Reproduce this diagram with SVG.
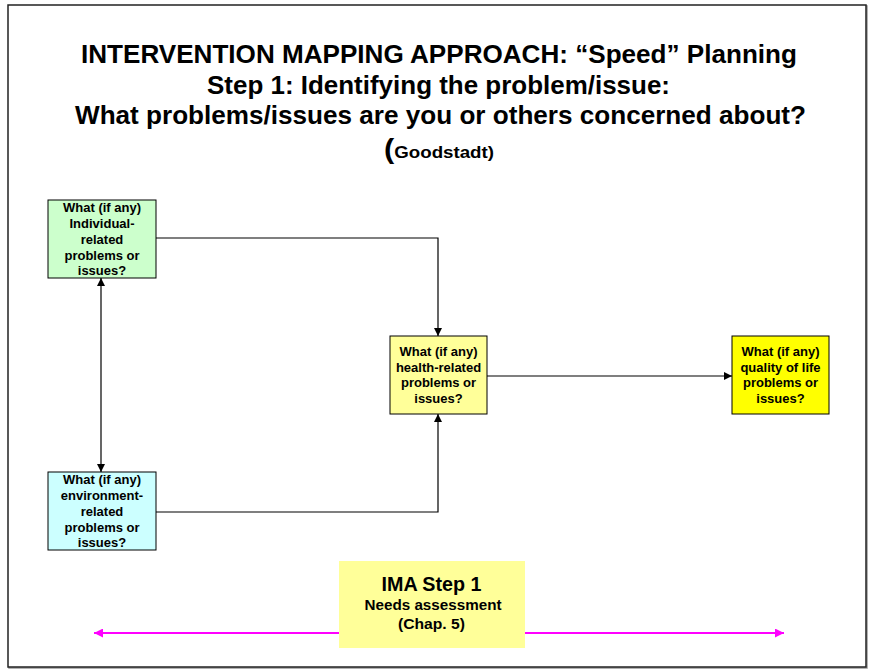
<svg xmlns="http://www.w3.org/2000/svg" width="870" height="669" viewBox="0 0 870 669">
<style>
.node{stroke:#000;stroke-width:1}
.nt{font-family:"Liberation Sans",Arial,sans-serif;font-weight:bold;font-size:13px;fill:#000;text-anchor:middle}
.tt{font-family:"Liberation Sans Narrow","Liberation Sans",Arial,sans-serif;font-weight:bold;fill:#000;text-anchor:middle}
.conn{fill:none;stroke:#000;stroke-width:1.2}
.mag{fill:none;stroke:#ff00ff;stroke-width:2}
</style>
<defs>
<marker id="ah" viewBox="0 0 10 10" refX="10" refY="5" markerWidth="9" markerHeight="8" markerUnits="userSpaceOnUse" orient="auto-start-reverse">
<path d="M0,0 L10,5 L0,10 z" fill="#000"/>
</marker>
<marker id="mh" viewBox="0 0 10 10" refX="10" refY="5" markerWidth="11" markerHeight="9" markerUnits="userSpaceOnUse" orient="auto-start-reverse">
<path d="M0,0 L10,5 L0,10 z" fill="#ff00ff"/>
</marker>
</defs>
<rect x="0" y="0" width="870" height="669" fill="#fff"/>
<rect x="9" y="6" width="858" height="662" fill="none" stroke="#999" stroke-width="1.5"/>
<rect x="8" y="5" width="858" height="662" fill="#fff" stroke="#222" stroke-width="1.5"/>
<g id="title">
<text class="tt" x="439" y="63" font-size="26" textLength="716" lengthAdjust="spacingAndGlyphs">INTERVENTION MAPPING APPROACH: “Speed” Planning</text>
<text class="tt" x="438.5" y="94" font-size="26" textLength="463" lengthAdjust="spacingAndGlyphs">Step 1: Identifying the problem/issue:</text>
<text class="tt" x="440.5" y="124" font-size="26" textLength="731" lengthAdjust="spacingAndGlyphs">What problems/issues are you or others concerned about?</text>
<text class="tt" x="439" y="158" textLength="110" lengthAdjust="spacingAndGlyphs"><tspan font-size="28">(</tspan><tspan font-size="17">Goodstadt)</tspan></text>
</g>
<g id="connectors">
<path class="conn" d="M156,238 H438 V336" marker-end="url(#ah)"/>
<path class="conn" d="M156,512 H438 V414" marker-end="url(#ah)"/>
<path class="conn" d="M101,278 V472" marker-start="url(#ah)" marker-end="url(#ah)"/>
<path class="conn" d="M487,376 H732" marker-end="url(#ah)"/>
</g>
<g id="individual">
<rect class="node" x="48" y="200" width="108" height="78" fill="#ccffcc"/>
<text class="nt" x="102" y="212">What (if any)</text>
<text class="nt" x="102" y="228">Individual-</text>
<text class="nt" x="102" y="244">related</text>
<text class="nt" x="102" y="260">problems or</text>
<text class="nt" x="102" y="275">issues?</text>
</g>
<g id="environment">
<rect class="node" x="48" y="472" width="108" height="78" fill="#ccffff"/>
<text class="nt" x="102" y="484">What (if any)</text>
<text class="nt" x="102" y="500">environment-</text>
<text class="nt" x="102" y="516">related</text>
<text class="nt" x="102" y="532">problems or</text>
<text class="nt" x="102" y="547">issues?</text>
</g>
<g id="health">
<rect class="node" x="390" y="336" width="97" height="78" fill="#ffff99"/>
<text class="nt" x="438.5" y="356">What (if any)</text>
<text class="nt" x="438.5" y="372">health-related</text>
<text class="nt" x="438.5" y="387">problems or</text>
<text class="nt" x="438.5" y="403">issues?</text>
</g>
<g id="quality">
<rect class="node" x="732" y="336" width="97" height="78" fill="#ffff00"/>
<text class="nt" x="780.5" y="356">What (if any)</text>
<text class="nt" x="780.5" y="372">quality of life</text>
<text class="nt" x="780.5" y="387">problems or</text>
<text class="nt" x="780.5" y="403">issues?</text>
</g>
<g id="timeline">
<path class="mag" d="M94,633 H784" marker-start="url(#mh)" marker-end="url(#mh)"/>
</g>
<g id="ima-step1">
<rect x="339" y="561" width="186" height="87" fill="#ffff99"/>
<text class="tt" x="431.5" y="591" font-size="20" textLength="100" lengthAdjust="spacingAndGlyphs">IMA Step 1</text>
<text class="tt" x="433" y="610" font-size="15" textLength="137" lengthAdjust="spacingAndGlyphs">Needs assessment</text>
<text class="tt" x="431.5" y="629" font-size="15" textLength="67" lengthAdjust="spacingAndGlyphs">(Chap. 5)</text>
</g>
</svg>
